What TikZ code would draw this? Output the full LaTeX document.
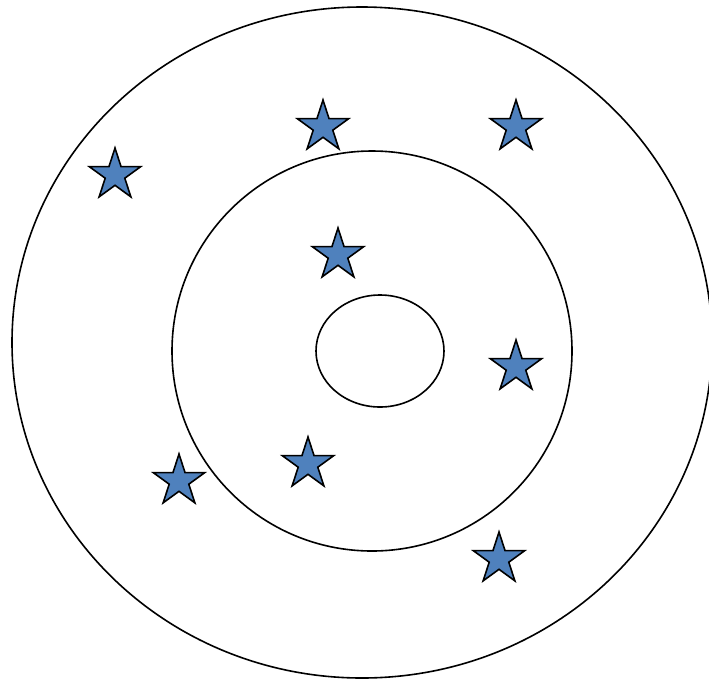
\documentclass[tikz,border=0pt]{standalone}
\definecolor{starblue}{HTML}{4F81BD}
\tikzset{
  ring/.style={draw=black, line width=1.6pt},
  starsty/.style={fill=starblue, draw=black, line width=1.6pt, line join=miter},
}
\newcommand{\drawstar}[2]{%
  \filldraw[starsty, shift={(#1,#2)}] (90:27pt)
    \foreach \k in {1,...,9}{ -- ({90+36*\k}:{ifthenelse(mod(\k,2)==0,27,10.3)*1pt}) } -- cycle;}
\begin{document}
\begin{tikzpicture}[x=1pt,y=-1pt]
\useasboundingbox (0,0) rectangle (709,681);
\fill[white] (0,0) rectangle (709,681);
\coordinate (outerc) at (362,342.5);
\coordinate (midc) at (372,351);
\coordinate (innerc) at (380,351);
\draw[ring] (outerc) ellipse [x radius=350, y radius=335.5];
\draw[ring] (midc) circle [radius=200];
\draw[ring] (innerc) ellipse [x radius=64, y radius=56];
\drawstar{115}{175}
\drawstar{323}{127}
\drawstar{516}{127}
\drawstar{338}{255}
\drawstar{516}{367}
\drawstar{308}{464}
\drawstar{179}{481}
\drawstar{499}{559}
\end{tikzpicture}
\end{document}
